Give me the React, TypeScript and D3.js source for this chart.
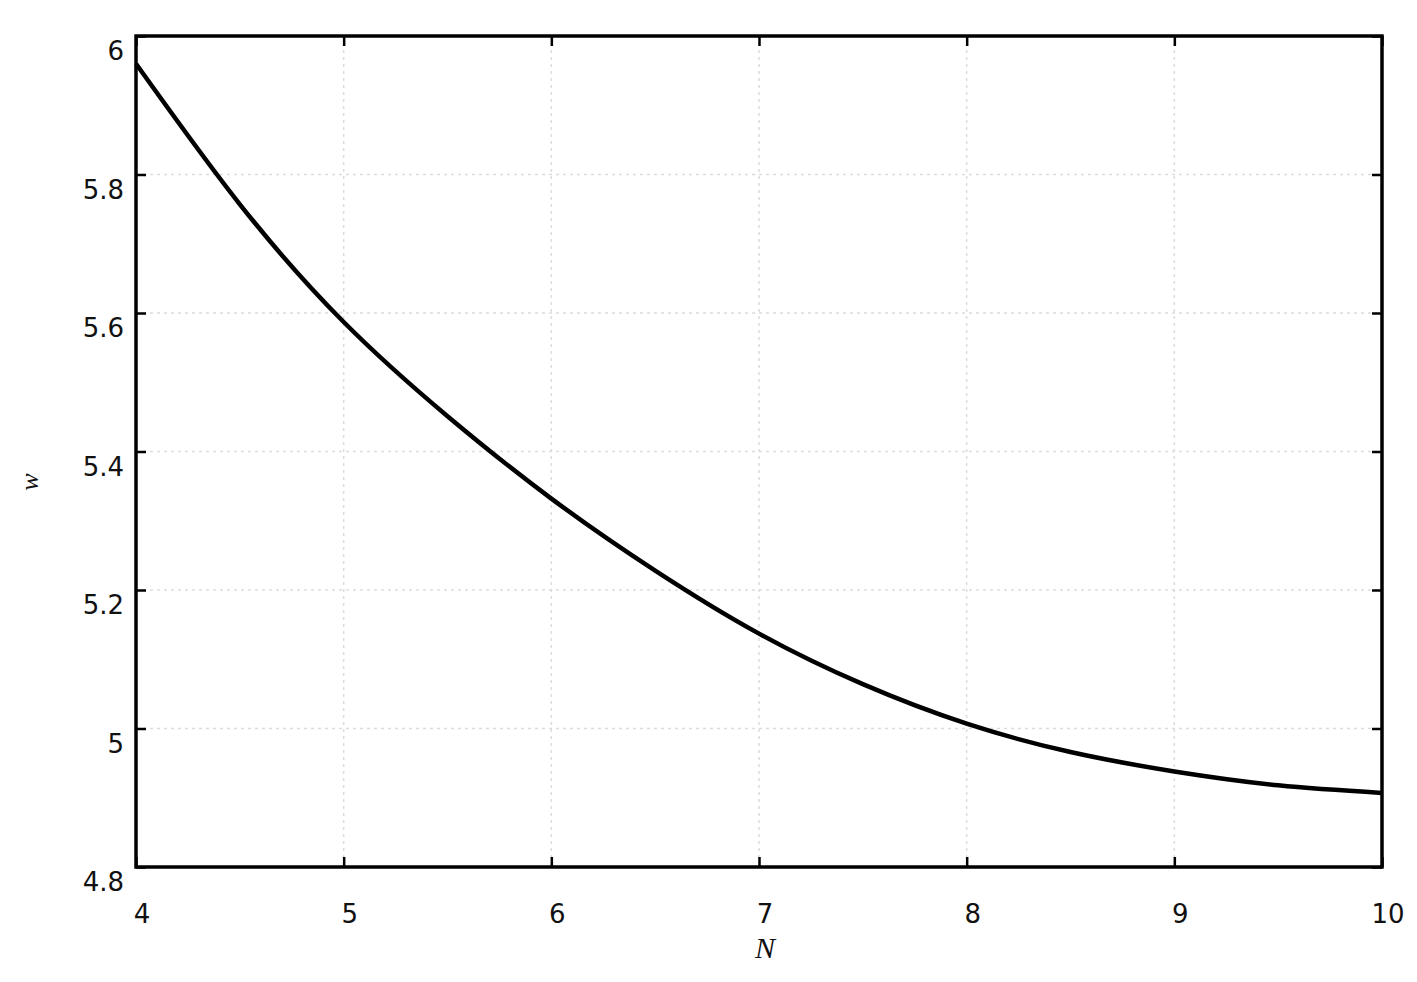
import React, { useEffect, useRef } from 'react';
import * as d3 from 'd3';

// values
const nValues = [4, 4.5, 5, 5.5, 6, 6.5, 7, 7.5, 8, 8.5, 9, 9.5, 10];
const wValues = [5.96, 5.757, 5.587, 5.451, 5.332, 5.228, 5.137, 5.064, 5.007, 4.966, 4.938, 4.918, 4.907];
const xTicks = [4, 5, 6, 7, 8, 9, 10];
const yTicks = [4.8, 5, 5.2, 5.4, 5.6, 5.8, 6];
const yTickLabels = ['4.8', '5', '5.2', '5.4', '5.6', '5.8', '6'];

const W = 1417, H = 982;
const margin = { top: 36, right: 35, bottom: 115, left: 136 };

const App = () => {
  const ref = useRef<SVGSVGElement>(null);

  useEffect(() => {
    const svg = d3.select(ref.current);
    svg.selectAll('*').remove();

    const width = W - margin.left - margin.right;
    const height = H - margin.top - margin.bottom;

    const x = d3.scaleLinear().domain([4, 10]).range([0, width]);
    const y = d3.scaleLinear().domain([4.8, 6]).range([height, 0]);

    const g = svg.append('g')
      .attr('transform', 'translate(' + margin.left + ',' + margin.top + ')');

    // grid
    g.selectAll('.vgrid').data(xTicks.slice(1, -1)).enter().append('line')
      .attr('x1', d => x(d)).attr('x2', d => x(d))
      .attr('y1', 0).attr('y2', height)
      .attr('stroke', '#dcdcdc').attr('stroke-width', 1.5)
      .attr('stroke-dasharray', '3,4');
    g.selectAll('.hgrid').data(yTicks.slice(1, -1)).enter().append('line')
      .attr('y1', d => y(d)).attr('y2', d => y(d))
      .attr('x1', 0).attr('x2', width)
      .attr('stroke', '#dcdcdc').attr('stroke-width', 1.5)
      .attr('stroke-dasharray', '3,4');

    // inward ticks on all four sides
    const tl = 10;
    const styleTicks = (a: any) => {
      a.select('.domain').remove();
      a.selectAll('line').attr('stroke', '#000').attr('stroke-width', 2.5);
    };
    g.append('g').call(d3.axisBottom(x).tickValues(xTicks).tickSize(tl).tickFormat(() => ''))
      .attr('transform', 'translate(0,' + (height - tl) + ')')
      .call(styleTicks);
    g.append('g').call(d3.axisTop(x).tickValues(xTicks).tickSize(tl).tickFormat(() => ''))
      .attr('transform', 'translate(0,' + tl + ')')
      .call(styleTicks);
    g.append('g').call(d3.axisLeft(y).tickValues(yTicks).tickSize(tl).tickFormat(() => ''))
      .attr('transform', 'translate(' + tl + ',0)')
      .call(styleTicks);
    g.append('g').call(d3.axisRight(y).tickValues(yTicks).tickSize(tl).tickFormat(() => ''))
      .attr('transform', 'translate(' + (width - tl) + ',0)')
      .call(styleTicks);

    // curve
    const line = d3.line<number>()
      .x((d, i) => x(nValues[i]))
      .y(d => y(d))
      .curve(d3.curveNatural);
    g.append('path')
      .datum(wValues)
      .attr('d', line)
      .attr('fill', 'none')
      .attr('stroke', '#000')
      .attr('stroke-width', 4.5);

    // frame
    g.append('rect')
      .attr('x', 0).attr('y', 0)
      .attr('width', width).attr('height', height)
      .attr('fill', 'none')
      .attr('stroke', '#000')
      .attr('stroke-width', 3.5);

    // tick labels
    const font = '"DejaVu Sans", sans-serif';
    g.selectAll('.xl').data(xTicks).enter().append('text')
      .text(d => String(d))
      .attr('x', d => x(d) + 6)
      .attr('y', height + 56)
      .attr('text-anchor', 'middle')
      .attr('font-family', font)
      .attr('font-size', '26px')
      .attr('fill', '#111');
    g.selectAll('.yl').data(yTicks).enter().append('text')
      .text((d, i) => yTickLabels[i])
      .attr('x', -12)
      .attr('y', d => y(d) + 24)
      .attr('text-anchor', 'end')
      .attr('font-family', font)
      .attr('font-size', '26px')
      .attr('fill', '#111');

    // axis titles
    svg.append('text')
      .text('N')
      .attr('x', 765)
      .attr('y', 958)
      .attr('text-anchor', 'middle')
      .attr('font-family', '"Liberation Serif", serif')
      .attr('font-style', 'italic')
      .attr('font-size', '30px')
      .attr('fill', '#111');
    svg.append('text')
      .text('w')
      .attr('transform', 'translate(38,482) rotate(-90)')
      .attr('text-anchor', 'middle')
      .attr('font-family', '"Liberation Serif", serif')
      .attr('font-style', 'italic')
      .attr('font-size', '26px')
      .attr('fill', '#111');
  }, []);

  return (
    <svg ref={ref} width={W} height={H}
      style={{ position: 'absolute', left: 0, top: 0, background: '#fff' }} />
  );
};

export default App;
